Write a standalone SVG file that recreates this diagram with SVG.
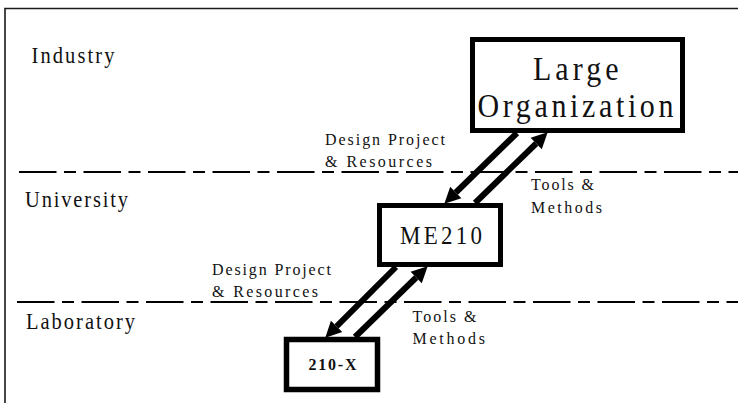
<svg xmlns="http://www.w3.org/2000/svg" width="738" height="403" viewBox="0 0 738 403">
<style>
  .frame { stroke:#1a1a1a; stroke-width:1.6; fill:none; }
  .dash { stroke:#000; stroke-width:2; stroke-dasharray:37.5 7.5 12 7.5; fill:none; }
  .box { fill:#fff; stroke:#000; stroke-width:5; }
  .arrow { stroke:#000; stroke-width:6; fill:none; marker-end:url(#ah); }
  .lbl { font-family:"Liberation Serif","Times New Roman",serif; fill:#111; }
  .zone { font-size:20.5px; }
  .flow { font-size:16px; }
</style>
<defs>
  <marker id="ah" markerUnits="userSpaceOnUse" markerWidth="18" markerHeight="18" viewBox="0 -9 17 18" refX="0" refY="0" orient="auto">
    <path d="M0,-8 L16,0 L0,8 Z" fill="#000"/>
  </marker>
</defs>
<rect width="738" height="403" fill="#fff"/>
<g id="frame">
  <path class="frame" d="M5,403 V8.5 H738"/>
</g>
<g id="zones">
  <line class="dash" x1="19" y1="172" x2="738" y2="172"/>
  <line class="dash" x1="17" y1="302" x2="738" y2="302"/>
  <text class="lbl zone" transform="translate(31.5,63) scale(1,1.1)" textLength="83" lengthAdjust="spacing">Industry</text>
  <text class="lbl zone" transform="translate(25,207) scale(1,1.1)" textLength="103" lengthAdjust="spacing">University</text>
  <text class="lbl zone" transform="translate(26,329) scale(1,1.1)" textLength="109" lengthAdjust="spacing">Laboratory</text>
</g>
<g id="connectors">
  <line class="arrow" x1="517" y1="133" x2="455.8" y2="192.5"/>
  <line class="arrow" x1="475" y1="203" x2="536.2" y2="143.5"/>
  <line class="arrow" x1="396" y1="267" x2="336.6" y2="326.4"/>
  <line class="arrow" x1="355" y1="337" x2="416.2" y2="277.5"/>
  <text class="lbl flow" transform="translate(325,145) scale(1,1.1)" textLength="120" lengthAdjust="spacing">Design Project</text>
  <text class="lbl flow" transform="translate(325,166.5) scale(1,1.1)" textLength="107" lengthAdjust="spacing">&amp; Resources</text>
  <text class="lbl flow" transform="translate(531,190) scale(1,1.1)" textLength="63" lengthAdjust="spacing">Tools &amp;</text>
  <text class="lbl flow" transform="translate(531,212.5) scale(1,1.1)" textLength="71" lengthAdjust="spacing">Methods</text>
  <text class="lbl flow" transform="translate(212,275) scale(1,1.1)" textLength="119" lengthAdjust="spacing">Design Project</text>
  <text class="lbl flow" transform="translate(212,296.5) scale(1,1.1)" textLength="106" lengthAdjust="spacing">&amp; Resources</text>
  <text class="lbl flow" transform="translate(412.5,321.5) scale(1,1.1)" textLength="64" lengthAdjust="spacing">Tools &amp;</text>
  <text class="lbl flow" transform="translate(412.5,344) scale(1,1.1)" textLength="72.5" lengthAdjust="spacing">Methods</text>
</g>
<g id="large-organization">
  <rect class="box" x="472.5" y="39.5" width="210" height="91"/>
  <text class="lbl" transform="translate(533,80) scale(1,1.1)" font-size="30" textLength="85.5" lengthAdjust="spacing">Large</text>
  <text class="lbl" transform="translate(477.5,117) scale(1,1.1)" font-size="30" textLength="196" lengthAdjust="spacing">Organization</text>
</g>
<g id="me210">
  <rect class="box" x="379.5" y="205.5" width="121" height="59"/>
  <text class="lbl" transform="translate(400,243.5) scale(1,1.1)" font-size="23" textLength="82" lengthAdjust="spacing">ME210</text>
</g>
<g id="lab-210x">
  <rect class="box" x="286.5" y="339.5" width="91" height="50" style="stroke-width:5.5"/>
  <text class="lbl" transform="translate(308.5,370) scale(1,1.1)" font-size="16" font-weight="bold" textLength="48" lengthAdjust="spacing">210-X</text>
</g>
</svg>
